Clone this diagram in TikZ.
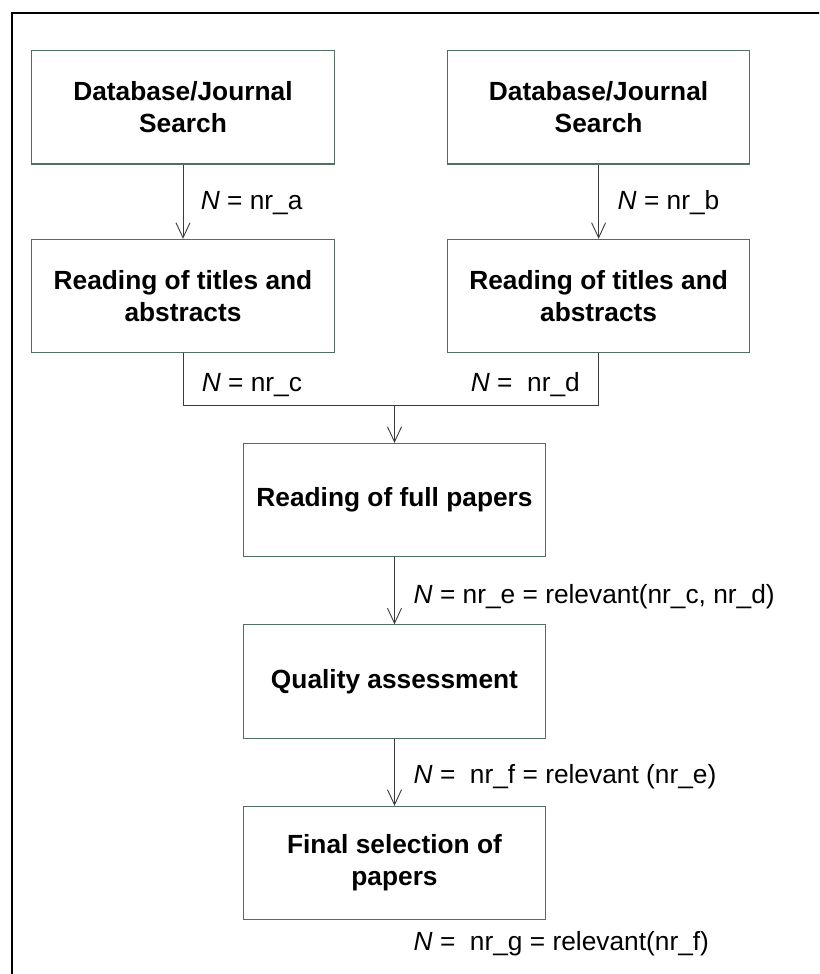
\documentclass[tikz,border=0pt]{standalone}
\usepackage{fontspec}
\setmainfont{Liberation Sans}
\usetikzlibrary{arrows.meta}
\definecolor{boxline}{HTML}{50705F}
\definecolor{wire}{HTML}{3A3A3A}
\begin{document}
\begin{tikzpicture}[x=1pt,y=-1pt,
  stagebox/.style={draw=boxline, line width=1.1pt, minimum width=302.4pt,
    minimum height=113.3pt, inner sep=0pt, align=center,
    font=\fontsize{26.3}{32.3}\selectfont\bfseries},
  flow/.style={draw=wire, line width=0.9pt,
    -{Straight Barb[length=15pt,width=14pt]}},
  joinline/.style={draw=wire, line width=0.9pt},
  count/.style={anchor=base west, inner sep=0pt,
    font=\fontsize{26.3}{32.3}\selectfont}]
\clip (0,0) rectangle (819,974);
% outer frame (runs past the right and bottom edges)
\draw[line width=2pt] (12,1000) -- (12,13.3) -- (840,13.3);

% stages
\node[stagebox] (searchA) at (183,107.3) {Database/Journal\\Search};
\node[stagebox] (searchB) at (598.6,107.3) {Database/Journal\\Search};
\node[stagebox] (titlesA) at (183,296) {Reading of titles and\\abstracts};
\node[stagebox] (titlesB) at (598.6,296) {Reading of titles and\\abstracts};
\node[stagebox] (full) at (394.5,500.1) {Reading of full papers};
\node[stagebox] (quality) at (394.5,681.5) {Quality assessment};
\node[stagebox] (final) at (394.5,863) {Final selection of\\papers};

% connectors
\draw[flow] (searchA) -- (titlesA);
\draw[flow] (searchB) -- (titlesB);
\coordinate (merge) at (394.5,405.7);
\draw[joinline] (titlesA.south) |- (merge) -| (titlesB.south);
\draw[flow] (merge) -- (full);
\draw[flow] (full) -- (quality);
\draw[flow] (quality) -- (final);

% counts
\node[count] (na) at (200.7,209.3) {\textit{N} = nr\_a};
\node[count] (nb) at (617.5,209.3) {\textit{N} = nr\_b};
\node[count] (nc) at (201.7,391) {\textit{N} = nr\_c};
\node[count] (nd) at (470.7,391) {\textit{N} =\ \ nr\_d};
\node[count] (ne) at (413.5,603) {\textit{N} = nr\_e = relevant(nr\_c, nr\_d)};
\node[count] (nf) at (413.5,783.3) {\textit{N} =\ \ nr\_f = relevant (nr\_e)};
\node[count] (ng) at (413.5,950) {\textit{N} =\ \ nr\_g = relevant(nr\_f)};
\end{tikzpicture}
\end{document}
